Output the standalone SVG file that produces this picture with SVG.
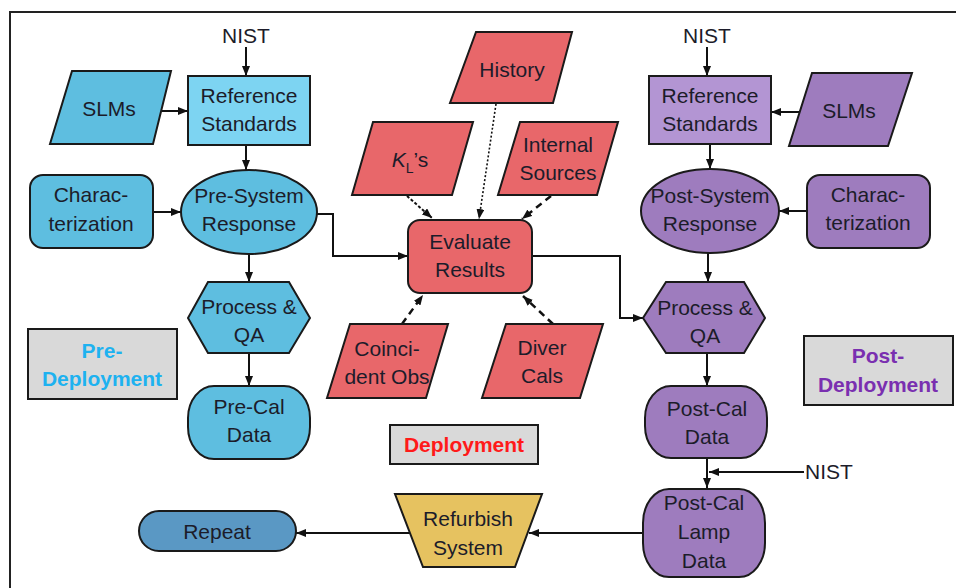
<svg xmlns="http://www.w3.org/2000/svg" width="956" height="588" viewBox="0 0 956 588">
<defs>
<marker id="ah" markerUnits="userSpaceOnUse" markerWidth="10" markerHeight="8" viewBox="0 0 10 8" refX="10" refY="4" orient="auto"><path d="M0,0 L10,4 L0,8 z" fill="#111"/></marker>
<style>
.n{stroke:#1a1a1a;stroke-width:2}
.blue{fill:#5EBEE0}.lblue{fill:#7DD4F2}.purp{fill:#9E7CBE}.lpurp{fill:#B395D3}.red{fill:#E8676A}.gold{fill:#E6C260}.rep{fill:#5A98C4}.lab{fill:#D9D9D9}
text{font-family:"Liberation Sans",Arial,sans-serif;font-size:21px;fill:#1c1c2a;text-anchor:middle}
.b{font-weight:bold}
.c{fill:none;stroke:#111;stroke-width:2}
.dot{stroke-dasharray:2 2;stroke-width:1.6}
.dot2{stroke-dasharray:3 2;stroke-width:2}
.dash{stroke-dasharray:7 5;stroke-width:2.5}
</style>
</defs>
<rect width="956" height="588" fill="#fff"/>
<g id="frame"><path d="M10,588 V12 H956" fill="none" stroke="#222" stroke-width="2"/></g>

<g id="connectors">
<path class="c" d="M246,47 V76" marker-end="url(#ah)"/>
<path class="c" d="M162,111 H188" marker-end="url(#ah)"/>
<path class="c" d="M246,145 V170" marker-end="url(#ah)"/>
<path class="c" d="M153,212 H181" marker-end="url(#ah)"/>
<path class="c" d="M249,254 V282" marker-end="url(#ah)"/>
<path class="c" d="M249,353 V386" marker-end="url(#ah)"/>
<path class="c" d="M317,214 H333 V256 H408" marker-end="url(#ah)"/>
<path class="c" d="M532,256 H620 V318 H643" marker-end="url(#ah)"/>
<path class="c dot" d="M496,104 L479,219" marker-end="url(#ah)"/>
<path class="c dot2" d="M407,196 L432,218" marker-end="url(#ah)"/>
<path class="c dash" d="M551,196 L522,219" marker-end="url(#ah)"/>
<path class="c dash" d="M402,324 L423,295" marker-end="url(#ah)"/>
<path class="c dash" d="M553,324 L523,296" marker-end="url(#ah)"/>
<path class="c" d="M707,47 V76" marker-end="url(#ah)"/>
<path class="c" d="M800,112 H771" marker-end="url(#ah)"/>
<path class="c" d="M710,144 V169" marker-end="url(#ah)"/>
<path class="c" d="M807,211 H779" marker-end="url(#ah)"/>
<path class="c" d="M708,252 V282" marker-end="url(#ah)"/>
<path class="c" d="M707,353 V386" marker-end="url(#ah)"/>
<path class="c" d="M707,458 V488" marker-end="url(#ah)"/>
<path class="c" d="M804,472 H709" marker-end="url(#ah)"/>
<path class="c" d="M643,533 H529" marker-end="url(#ah)"/>
<path class="c" d="M410,533 H296" marker-end="url(#ah)"/>
</g>

<g id="nist-left"><text x="246" y="43">NIST</text></g>
<g id="nist-right"><text x="707" y="43">NIST</text></g>
<g id="nist-bottom"><text x="829" y="479">NIST</text></g>

<g id="slms-left"><polygon class="n blue" points="72,71 171,71 153,144 50,144"/><text x="109" y="116">SLMs</text></g>
<g id="ref-left"><rect class="n lblue" x="188" y="76" width="122" height="69"/><text x="249" y="103">Reference</text><text x="249" y="131">Standards</text></g>
<g id="char-left"><rect class="n blue" x="30" y="175" width="123" height="73" rx="13"/><text x="91" y="202">Charac-</text><text x="91" y="231">terization</text></g>
<g id="presys"><ellipse class="n blue" cx="249" cy="212" rx="68" ry="42"/><text x="249" y="203">Pre-System</text><text x="249" y="231">Response</text></g>
<g id="proc-left"><polygon class="n blue" points="208,282 289,282 310,318 289,353 208,353 188,318"/><text x="249" y="314">Process &amp;</text><text x="249" y="342">QA</text></g>
<g id="precal"><rect class="n blue" x="188" y="386" width="122" height="73" rx="26" ry="32"/><text x="249" y="414">Pre-Cal</text><text x="249" y="442">Data</text></g>
<g id="predeploy"><rect class="n lab" x="28" y="329" width="149" height="70"/><text class="b" x="102" y="358" style="fill:#1EB2F0">Pre-</text><text class="b" x="102" y="386" style="fill:#1EB2F0">Deployment</text></g>
<g id="repeat"><rect class="n rep" x="139" y="511" width="157" height="40" rx="20"/><text x="217" y="539">Repeat</text></g>

<g id="history"><polygon class="n red" points="476,32 572,32 553,103 450,103"/><text x="512" y="77">History</text></g>
<g id="kls"><polygon class="n red" points="373,122 473,122 452,195 352,195"/><text x="410" y="167"><tspan font-style="italic">K</tspan><tspan font-size="14" dy="6">L</tspan><tspan dy="-6">’s</tspan></text></g>
<g id="internal"><polygon class="n red" points="520,122 618,122 597,195 498,195"/><text x="558" y="152">Internal</text><text x="558" y="180">Sources</text></g>
<g id="evaluate"><rect class="n red" x="408" y="220" width="124" height="73" rx="12"/><text x="470" y="249">Evaluate</text><text x="470" y="277">Results</text></g>
<g id="coinc"><polygon class="n red" points="350,324 448,324 426,398 327,398"/><text x="387" y="356">Coinci-</text><text x="387" y="384">dent Obs</text></g>
<g id="diver"><polygon class="n red" points="506,324 603,324 580,398 482,398"/><text x="542" y="355">Diver</text><text x="542" y="383">Cals</text></g>
<g id="deploy"><rect class="n lab" x="390" y="425" width="148" height="39"/><text class="b" x="464" y="452" style="fill:#FF1A1A">Deployment</text></g>
<g id="refurbish"><polygon class="n gold" points="395,494 542,494 515,567 423,567"/><text x="468" y="526">Refurbish</text><text x="468" y="555">System</text></g>

<g id="ref-right"><rect class="n lpurp" x="649" y="76" width="122" height="68"/><text x="710" y="103">Reference</text><text x="710" y="131">Standards</text></g>
<g id="slms-right"><polygon class="n purp" points="812,73 912,73 888,146 789,146"/><text x="849" y="118">SLMs</text></g>
<g id="postsys"><ellipse class="n purp" cx="710" cy="211" rx="69" ry="42"/><text x="710" y="203">Post-System</text><text x="710" y="231">Response</text></g>
<g id="char-right"><rect class="n purp" x="807" y="175" width="123" height="73" rx="13"/><text x="868" y="202">Charac-</text><text x="868" y="230">terization</text></g>
<g id="proc-right"><polygon class="n purp" points="666,282 744,282 765,318 744,353 666,353 643,318"/><text x="705" y="315">Process &amp;</text><text x="705" y="343">QA</text></g>
<g id="postcal"><rect class="n purp" x="645" y="386" width="122" height="72" rx="26" ry="32"/><text x="707" y="416">Post-Cal</text><text x="707" y="444">Data</text></g>
<g id="postlamp"><rect class="n purp" x="643" y="489" width="122" height="88" rx="26" ry="34"/><text x="704" y="510">Post-Cal</text><text x="704" y="539">Lamp</text><text x="704" y="568">Data</text></g>
<g id="postdeploy"><rect class="n lab" x="804" y="336" width="149" height="69"/><text class="b" x="878" y="363" style="fill:#7A2FB0">Post-</text><text class="b" x="878" y="392" style="fill:#7A2FB0">Deployment</text></g>
</svg>
